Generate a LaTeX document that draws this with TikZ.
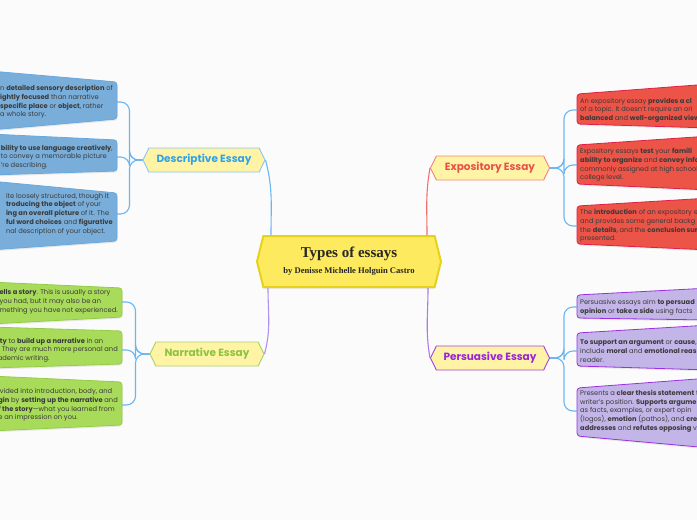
\documentclass[tikz,border=0pt]{standalone}
\usepackage{fontspec}
\setmainfont{Poppins}
\newfontfamily\serifbold{Liberation Serif}
\usetikzlibrary{shapes.symbols,shadows}

\definecolor{paper}{HTML}{FBFBFB}
\definecolor{ink}{HTML}{3A3A3A}
\definecolor{hubfill}{HTML}{FDEA5E}
\definecolor{hubline}{HTML}{E6D21A}
\definecolor{topicfill}{HTML}{FFF3A6}
\definecolor{descc}{HTML}{2EA3E8}
\definecolor{narrc}{HTML}{8CC43F}
\definecolor{expoc}{HTML}{E8514A}
\definecolor{persc}{HTML}{9A24D8}
\definecolor{descedge}{HTML}{86C6F4}
\definecolor{narredge}{HTML}{A7D16A}
\definecolor{expoedge}{HTML}{F2857A}
\definecolor{persedge}{HTML}{A340E0}
\definecolor{linkblue}{HTML}{6BB6F2}
\definecolor{linkred}{HTML}{F0706C}
\definecolor{linkviolet}{HTML}{B090F0}
\definecolor{bluebox}{HTML}{7AAEDA}
\definecolor{blueedge}{HTML}{68A8E0}
\definecolor{greenbox}{HTML}{A9DB5A}
\definecolor{greenedge}{HTML}{94CC48}
\definecolor{redbox}{HTML}{EB5447}
\definecolor{rededge}{HTML}{E11F48}
\definecolor{lilacbox}{HTML}{C3B5E8}
\definecolor{lilacedge}{HTML}{9A30E0}

\begin{document}
\begin{tikzpicture}[x=1pt,y=-1pt,
every node/.style={font=\fontsize{6.7}{8.7}\selectfont,text=ink},
hub/.style={signal,signal to=west and east,signal pointer angle=152,draw=hubline,line width=2pt,fill=hubfill,minimum width=184pt,minimum height=51pt,align=center,drop shadow={opacity=.12,shadow xshift=0pt,shadow yshift=-2pt}},
topic/.style={signal,signal to=west and east,signal pointer angle=128,fill=topicfill,line width=.9pt,minimum height=24pt,inner xsep=2pt,font=\fontsize{10.5}{12}\selectfont\bfseries},
lnote/.style={anchor=east,inner xsep=4pt,inner ysep=0pt,align=left},
rnote/.style={anchor=west,inner xsep=3pt,inner ysep=0pt,align=left},
card/.style={rounded corners=3pt,line width=.8pt,drop shadow={opacity=.15,shadow xshift=.5pt,shadow yshift=-1.5pt}},
link/.style={line width=1.1pt,rounded corners=9pt}]
\useasboundingbox[fill=paper] (0,0) rectangle (697,520);
\clip (0,0) rectangle (697,520);

% cards
\filldraw[card,fill=bluebox,draw=blueedge] (-10,71) -- (117,82) -- (117,119) -- (-10,130) -- cycle;
\filldraw[card,fill=bluebox,draw=blueedge] (-10,134) -- (117,140) -- (117,171) -- (-10,175) -- cycle;
\filldraw[card,fill=bluebox,draw=blueedge] (-10,181) -- (117,193) -- (117,241) -- (-10,250) -- cycle;
\filldraw[card,fill=greenbox,draw=greenedge] (-10,282) -- (122,288) -- (122,317) -- (-10,324) -- cycle;
\filldraw[card,fill=greenbox,draw=greenedge] (-10,327) -- (122,331) -- (122,364) -- (-10,368) -- cycle;
\filldraw[card,fill=greenbox,draw=greenedge] (-10,376) -- (122,382) -- (122,425) -- (-10,431) -- cycle;
\filldraw[card,fill=redbox,draw=rededge] (577,94) -- (710,84) -- (710,128) -- (577,124) -- cycle;
\filldraw[card,fill=redbox,draw=rededge] (577,145) -- (710,136) -- (710,190) -- (577,184) -- cycle;
\filldraw[card,fill=redbox,draw=rededge] (577,206) -- (710,198) -- (710,250) -- (577,244) -- cycle;
\filldraw[card,fill=lilacbox,draw=lilacedge] (577,295) -- (710,288) -- (710,320) -- (577,318) -- cycle;
\filldraw[card,fill=lilacbox,draw=lilacedge] (577,333) -- (710,325) -- (710,370) -- (577,366) -- cycle;
\filldraw[card,fill=lilacbox,draw=lilacedge] (577,388) -- (710,378) -- (710,448) -- (577,436) -- cycle;

% card texts
\node[lnote] (d1) at (117,102) {n \textbf{detailed sensory description} of\\ \textbf{ightly focused} than narrative\\ \textbf{specific place} or \textbf{object}, rather\\ a whole story.};
\node[lnote] (d2) at (117,157) {\textbf{bility to use language creatively},\\ to convey a memorable picture\\ ’re describing.};
\node[lnote] (d3) at (117,214) {ite loosely structured, though it\\ \textbf{troducing the object} of your\\ \textbf{ing an overall picture} of it. The\\ \textbf{ful word choices} and \textbf{figurative}\\ nal description of your object.};
\node[lnote] (n1) at (122,302) {\textbf{ells a story}. This is usually a story\\ you had, but it may also be an\\ mething you have not experienced.};
\node[lnote] (n2) at (122,350) {\textbf{ity} to \textbf{build up a narrative} in an\\ . They are much more personal and\\ ademic writing.};
\node[lnote] (n3) at (122,405) {ivided into introduction, body, and\\ \textbf{gin} by \textbf{setting up the narrative} and\\ \textbf{f the story}—what you learned from\\ e an impression on you.};
\node[rnote] (e1) at (577,110) {An expository essay \textbf{provides a cl}\\ of a topic. It doesn’t require an ori\\ \textbf{balanced} and \textbf{well-organized view}};
\node[rnote] (e2) at (577,165) {Expository essays \textbf{test} your \textbf{famili}\\ \textbf{ability to organize} and \textbf{convey info}\\ commonly assigned at high school\\ college level.};
\node[rnote] (e3) at (577,226) {The \textbf{introduction} of an expository e\\ and provides some general backg\\ the \textbf{details}, and the \textbf{conclusion sum}\\ presented.};
\node[rnote] (p1) at (577,307) {Persuasive essays aim \textbf{to persuad}\\ \textbf{opinion} or \textbf{take a side} using facts};
\node[rnote] (p2) at (577,351) {\textbf{To support an argument} or \textbf{cause},\\ include \textbf{moral} and \textbf{emotional reas}\\ reader.};
\node[rnote] (p3) at (577,411) {Presents a \textbf{clear thesis statement} t\\ writer’s position. \textbf{Supports argume}\\ as facts, examples, or expert opin\\ (logos), \textbf{emotion} (pathos), and \textbf{cre}\\ \textbf{addresses} and \textbf{refutes opposing} v};

% central idea and topics
\node[hub] (essays) at (349,261.5) {\serifbold\fontsize{15}{16}\selectfont\bfseries\color{black!85} Types of essays\\[6pt] \serifbold\fontsize{8.6}{9}\selectfont\bfseries\color{black!85} by Denisse Michelle Holguin Castro};
\node[topic,draw=descedge,text=descc,minimum width=122pt] (desc) at (204,160) {Descriptive Essay};
\node[topic,draw=narredge,text=narrc,minimum width=114pt] (narr) at (207,354) {Narrative Essay};
\node[topic,draw=expoedge,text=expoc,minimum width=119pt] (expo) at (490,168) {Expository Essay};
\node[topic,draw=persedge,text=persc,minimum width=119pt] (pers) at (490,358) {Persuasive Essay};

% branches
\draw[link,linkblue] ([xshift=-78pt]essays.north) to[out=90,in=-75] (desc.east);
\draw[link,linkviolet] ([xshift=-81pt]essays.south) to[out=-90,in=75] (narr.east);
\draw[link,linkred] ([xshift=78pt]essays.north) to[out=90,in=-100] (expo.west);
\draw[link,linkviolet!80!persc] ([xshift=79pt]essays.south) to[out=-90,in=100] (pers.west);

\coordinate (dj) at ([xshift=-13pt]desc.west);
\coordinate (nj) at ([xshift=-14pt]narr.west);
\coordinate (ej) at ([xshift=14pt]expo.east);
\coordinate (pj) at ([xshift=14pt]pers.east);
\foreach \t/\j/\c in {desc/dj/d1,desc/dj/d2,desc/dj/d3,narr/nj/n1,narr/nj/n2,narr/nj/n3}
  \draw[link,linkblue] (\t.west) -- (\j) |- (\c.east);
\foreach \t/\j/\c in {expo/ej/e1,expo/ej/e2,expo/ej/e3,pers/pj/p1,pers/pj/p2,pers/pj/p3}
  \draw[link,linkblue] (\t.east) -- (\j) |- (\c.west);
\end{tikzpicture}
\end{document}
